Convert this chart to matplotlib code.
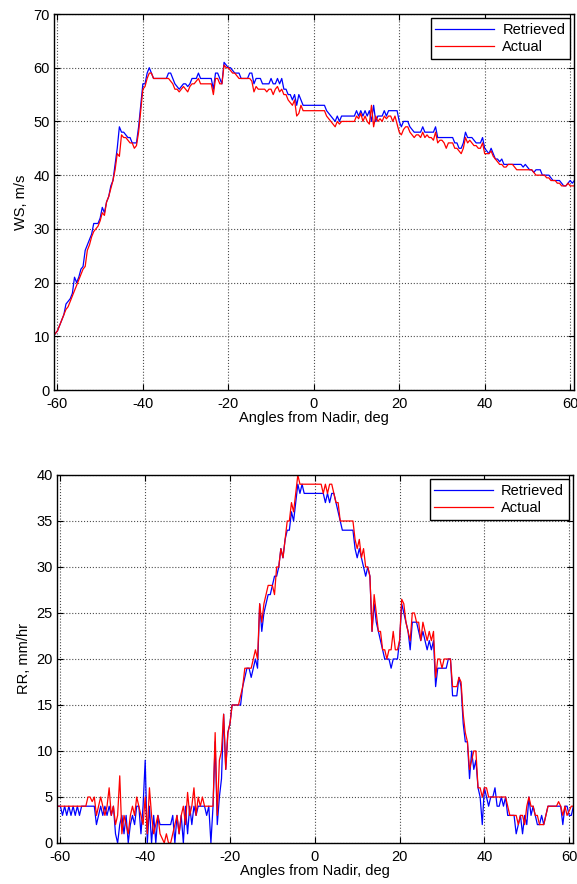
import numpy as np
import matplotlib
matplotlib.use('Agg')
from matplotlib import pyplot as plt

# sample angles, 0.5 deg spacing from -61 to 61
angles = np.arange(-61, 61.01, 0.5)

ws_retrieved = [
    10, 10.5, 11, 12, 13, 14, 16, 16.5, 17, 18,
    21, 20, 21, 22.5, 23, 26, 27, 28, 29, 31,
    31, 31, 32, 34, 33, 35, 36, 38, 39, 42,
    45, 49, 48, 48, 47.5, 47, 47, 46, 46, 46,
    49, 53, 57, 57, 59, 60, 59, 58, 58, 58,
    58, 58, 58, 58, 59, 59, 58, 57, 56.5, 56,
    56.5, 57, 57, 56.5, 57, 58, 58, 58, 59, 58,
    58, 58, 58, 58, 58, 56, 59, 59, 58, 57,
    61, 60.5, 60, 60, 59.5, 59, 59, 59, 58, 58,
    58, 58, 59, 59, 57, 58, 58, 58, 57, 57,
    57, 57, 58, 57, 57, 58, 57, 58, 56, 56,
    55, 55, 54, 55, 53, 55, 54, 53, 53, 53,
    53, 53, 53, 53, 53, 53, 53, 53, 52, 51.5,
    51, 50.5, 50, 51, 50, 51, 51, 51, 51, 51,
    51, 51, 52, 51, 52, 51, 52, 51, 52, 50,
    53, 50, 51, 51, 51, 52, 51, 52, 52, 52,
    52, 52, 50, 49, 50, 50, 50, 49, 48.5, 48,
    48, 48, 48, 49, 48, 48, 48, 48, 48, 49,
    47, 47, 47, 47, 47, 47, 47, 47, 46, 46,
    45, 45, 46, 48, 47, 47, 47, 46.5, 46, 46,
    46, 47, 45, 44.5, 44, 45, 44, 43, 43, 42.5,
    43, 42, 42, 42, 42, 42, 42, 42, 42, 42,
    41.5, 42, 41.5, 41, 41, 40.5, 41, 41, 41, 40,
    40, 40, 40, 39.5, 39, 39, 39, 39, 38.5, 38,
    38, 38.5, 39, 38.5, 39,
]

ws_actual = [
    10, 10.5, 11, 12, 13, 14, 15, 15.5, 16.5, 17.5,
    18.5, 19.5, 20.5, 21.5, 22.5, 23, 26, 27, 28.5, 29.5,
    30, 30.5, 31.5, 33, 32.5, 35, 36, 37.5, 39, 41,
    44, 43.5, 47.5, 47, 47, 46.5, 46, 46, 45, 45.5,
    48, 52, 56, 56.5, 58, 59, 59, 58, 58, 58,
    58, 58, 58, 58, 58, 57.5, 57, 56, 56, 55.5,
    56, 56.5, 56, 55.5, 56.5, 57, 57, 57.5, 58, 57,
    57, 57, 57, 57, 57, 55, 58, 58, 57, 57,
    60.5, 60, 60, 59.5, 59, 59, 58.5, 58, 58, 58,
    58, 58, 58, 57.5, 55.5, 56.5, 56, 56, 56, 56,
    55.5, 56, 56, 55, 56, 56.5, 55.5, 56, 55, 55,
    54, 53.5, 53, 54, 51, 51.5, 53, 52, 52, 52,
    52, 52, 52, 52, 52, 52, 52, 52, 51, 50.5,
    50, 49.5, 49, 50, 49.5, 50, 50, 50, 50, 50,
    50, 50, 51, 50.5, 51.5, 50, 51, 50, 49.5, 53,
    49, 51, 50, 50.5, 50, 51, 50.5, 51, 51, 50,
    51, 49.5, 48, 47.5, 48.5, 49, 49, 48, 47.5, 47,
    47.5, 47.5, 47, 48, 47, 47.5, 47, 47, 46.5, 48,
    46, 46.5, 46.5, 46, 45, 46, 46, 46, 45, 45,
    44.5, 44, 45, 47, 46, 46.5, 46, 45.5, 45.5, 45,
    45, 46, 44, 44, 44, 44.5, 43.5, 43, 42.5, 42,
    42, 41.5, 41.5, 42, 42, 42, 41.5, 41, 41, 41,
    41, 41, 41, 41, 41, 40.5, 40, 40, 40, 40,
    40, 39.5, 39.5, 39, 39, 39, 38.5, 38.5, 38, 38,
    38, 38.5, 38, 38, 38,
]

rr_retrieved = [
    4, 4, 4, 3, 4, 3, 4, 3, 4, 3,
    4, 3, 4, 4, 4, 4, 4, 4, 4, 2,
    3, 4, 3, 4, 3, 4, 3, 4, 1, 0,
    2, 3, 1, 3, 0, 2, 3, 2, 4, 4,
    1, 4, 9, 0, 4, 0, 3, 0, 3, 2,
    2, 2, 2, 2, 2, 3, 0, 3, 1, 3,
    0, 4, 1, 4, 2, 4, 3, 4, 4, 4,
    4, 3, 4, 0, 4, 11, 2, 5, 7, 14,
    8, 12, 13, 15, 15, 15, 15, 15, 17, 18,
    19, 19, 18, 19, 20, 19, 26, 23, 25, 26,
    27, 27, 28, 29, 29, 30, 32, 31, 33, 34,
    34, 36, 35, 37, 39, 38, 39, 38, 38, 38,
    38, 38, 38, 38, 38, 38, 38, 37, 38, 37,
    38, 38, 37, 36, 35, 34, 34, 34, 34, 34,
    34, 32, 31, 32, 31, 30, 29, 30, 29, 23,
    26, 24, 23, 22, 21, 20, 20, 20, 19, 20,
    20, 20, 22, 26, 25, 24, 23, 21, 24, 24,
    24, 23, 22, 23, 22, 21, 22, 21, 22, 17,
    19, 19, 19, 19, 19, 20, 20, 16, 16, 16,
    18, 17, 13, 11, 11, 7, 10, 8, 9, 6,
    5, 2, 6, 5, 4, 5, 5, 6, 4, 4,
    5, 4, 5, 3, 3, 3, 3, 1, 2, 3,
    1, 3, 2, 5, 3, 4, 3, 2, 2, 3,
    2, 3, 4, 4, 4, 4, 4, 4, 4, 2,
    4, 4, 3, 3, 4,
]

rr_actual = [
    4, 4, 4, 4, 4, 4, 4, 4, 4, 4,
    4, 4, 4, 4, 4, 5, 5, 4.5, 5, 3,
    4, 5, 4, 3, 4, 6, 3, 4, 2, 3,
    7.3, 1, 3, 2, 1, 3, 4, 3, 5, 4,
    3, 2, 5, 1, 6, 3, 1, 2, 3, 1,
    0.5, 0, 1, 0, 0, 1, 2, 3, 1, 3,
    4, 2, 5.5, 3, 4, 6, 3, 5, 4, 5,
    4, 4, 4, 4, 4, 12, 3, 9, 10, 14,
    8, 12, 13, 15, 15, 15, 15, 16, 17, 19,
    19, 19, 19, 20, 21, 20, 26, 24, 26, 27,
    28, 28, 28, 27, 30, 30, 32, 31, 33, 35,
    35, 37, 36, 38, 40, 39, 39, 39, 39, 39,
    39, 39, 39, 39, 39, 39, 38, 39, 38, 39,
    39, 38, 37, 37, 35, 35, 35, 35, 35, 35,
    35, 33, 32, 33, 31, 32, 30, 30, 29, 23,
    27, 25, 23, 23, 21, 21, 20, 21, 21, 23,
    21, 21, 22, 26.5, 26, 24, 23, 22, 25, 25,
    24, 24, 22, 24, 23, 22, 23, 22, 23, 18,
    20, 20, 19, 20, 20, 20, 20, 17, 17, 17,
    18, 17.5, 14, 12, 11, 8, 9, 10, 10, 6,
    6, 5, 6, 6, 5, 5, 5, 5, 5, 5,
    5, 5, 5, 4, 3, 3, 3, 3, 2, 3,
    3, 2, 4, 5, 4, 4, 3, 3, 2, 2,
    2, 3, 4, 4, 4, 4, 4, 4.5, 4, 3,
    4, 3, 3.5, 4, 4,
]

xticks = [-60, -40, -20, 0, 20, 40, 60]

plt.rcParams['font.family'] = ['Liberation Sans', 'DejaVu Sans']
plt.rcParams['font.size'] = 10.5
plt.rcParams['axes.unicode_minus'] = False

W, H = 577, 884
fig = plt.figure(figsize=(W / 100, H / 100), dpi=100)

def style(ax, ylim, yticks, ylabel):
    ax.set_xlim(-60.8, 60.9)
    ax.set_ylim(*ylim)
    ax.set_xticks(xticks)
    ax.set_yticks(yticks)
    ax.grid(True, linestyle=':', color='0.3', linewidth=0.8)
    ax.tick_params(direction='in', length=4, top=True, right=True, labelsize=10.5)
    ax.tick_params(axis='x', pad=5)
    ax.tick_params(axis='y', pad=3)
    for s in ax.spines.values():
        s.set_linewidth(1.0)
    ax.set_xlabel('Angles from Nadir, deg', labelpad=0)
    ax.set_ylabel(ylabel, labelpad=4)
    leg = ax.legend(loc='upper right', fancybox=False, edgecolor='black', framealpha=1,
                    handlelength=4.0, borderaxespad=0.3, borderpad=0.3, labelspacing=0.25,
                    handletextpad=0.6, fontsize=10.5)
    leg.get_frame().set_linewidth(1.0)

ax1 = fig.add_axes([54 / W, 1 - 390 / H, 520 / W, 376 / H])
ax1.plot(angles, ws_retrieved, color='blue', lw=0.9, label='Retrieved')
ax1.plot(angles, ws_actual, color='red', lw=0.9, label='Actual')
style(ax1, (0, 70), np.arange(0, 71, 10), 'WS, m/s')

ax2 = fig.add_axes([57 / W, 1 - 843 / H, 516 / W, 368 / H])
ax2.plot(angles, rr_retrieved, color='blue', lw=0.9, label='Retrieved')
ax2.plot(angles, rr_actual, color='red', lw=0.9, label='Actual')
style(ax2, (0, 40), np.arange(0, 41, 5), 'RR, mm/hr')

fig.savefig('out.png', dpi=100)
